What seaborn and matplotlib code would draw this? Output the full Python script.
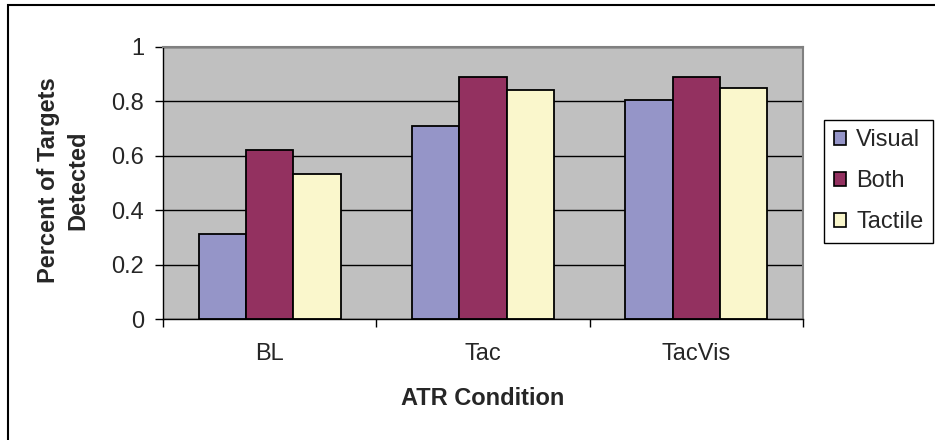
import pandas as pd
import matplotlib.pyplot as plt
import matplotlib.patches as mpatches
import seaborn as sns

# values
conditions = ["BL", "Tac", "TacVis"]
modalities = ["Visual", "Both", "Tactile"]
visual = [0.313, 0.710, 0.804]
both = [0.620, 0.890, 0.889]
tactile = [0.533, 0.840, 0.847]
colors = ["#9595C8", "#933160", "#FAF7CC"]

data = pd.DataFrame({
    "condition": conditions * 3,
    "modality": [m for m in modalities for _ in conditions],
    "value": visual + both + tactile,
})

sns.set_style("white")
plt.rcParams["font.family"] = ["Liberation Sans", "DejaVu Sans"]
fs = 17

fig, ax = plt.subplots(figsize=(9.35, 4.4), dpi=100)
fig.subplots_adjust(left=0.1743, right=0.8588, bottom=0.2743, top=0.8939)

ax.set_facecolor("#C0C0C0")
ax.set_axisbelow(True)
ax.yaxis.grid(True, color="black", linewidth=1)

sns.barplot(data=data, x="condition", y="value", hue="modality",
            hue_order=modalities, palette=colors, width=0.665,
            edgecolor="black", linewidth=1.3, saturation=1, ax=ax)

ax.set_ylim(0, 1)
ax.set_xlim(-0.5, 2.5)
ax.set_yticks([0, 0.2, 0.4, 0.6, 0.8, 1.0])
ax.set_yticklabels(["0", "0.2", "0.4", "0.6", "0.8", "1"])
ax.tick_params(axis="y", which="major", left=True, length=5.5, width=1,
               color="black", labelsize=fs, pad=8)
ax.tick_params(axis="x", which="major", bottom=False, length=0, labelsize=fs, pad=17)
ax.set_xticks([-0.5, 0.5, 1.5, 2.5], minor=True)
ax.tick_params(axis="x", which="minor", bottom=True, length=6, width=1, color="black")

for side in ["left", "bottom"]:
    ax.spines[side].set_color("black")
    ax.spines[side].set_linewidth(1)
for side in ["top", "right"]:
    ax.spines[side].set_visible(True)
    ax.spines[side].set_color("#808080")
    ax.spines[side].set_linewidth(1.5)

ax.set_xlabel("ATR Condition", fontsize=fs, fontweight="bold")
ax.xaxis.set_label_coords(0.5, -0.25)
ax.set_ylabel("Percent of Targets\nDetected", fontsize=fs, fontweight="bold",
              linespacing=1.35)
ax.yaxis.set_label_coords(-0.115, 0.51)

# legend at the right, as in the original
ax.get_legend().remove()
handles = [mpatches.Patch(facecolor=c, edgecolor="black", linewidth=1.2) for c in colors]
fig.legend(handles, modalities, loc="upper right",
           bbox_to_anchor=(933 / 935, 1 - 120 / 440), fontsize=fs,
           frameon=True, fancybox=False, edgecolor="black", framealpha=1,
           handlelength=0.5, handleheight=0.5, handletextpad=0.45,
           labelspacing=0.8, borderpad=0.4, borderaxespad=0)

# outer chart border (left and top visible)
fig.patches.append(mpatches.Rectangle((8 / 935, -0.1), 1.2, 0.1 + 1 - 5 / 440,
                                      transform=fig.transFigure, fill=False,
                                      edgecolor="black", linewidth=1.5))

fig.savefig("out.png", dpi=100, facecolor="white")
